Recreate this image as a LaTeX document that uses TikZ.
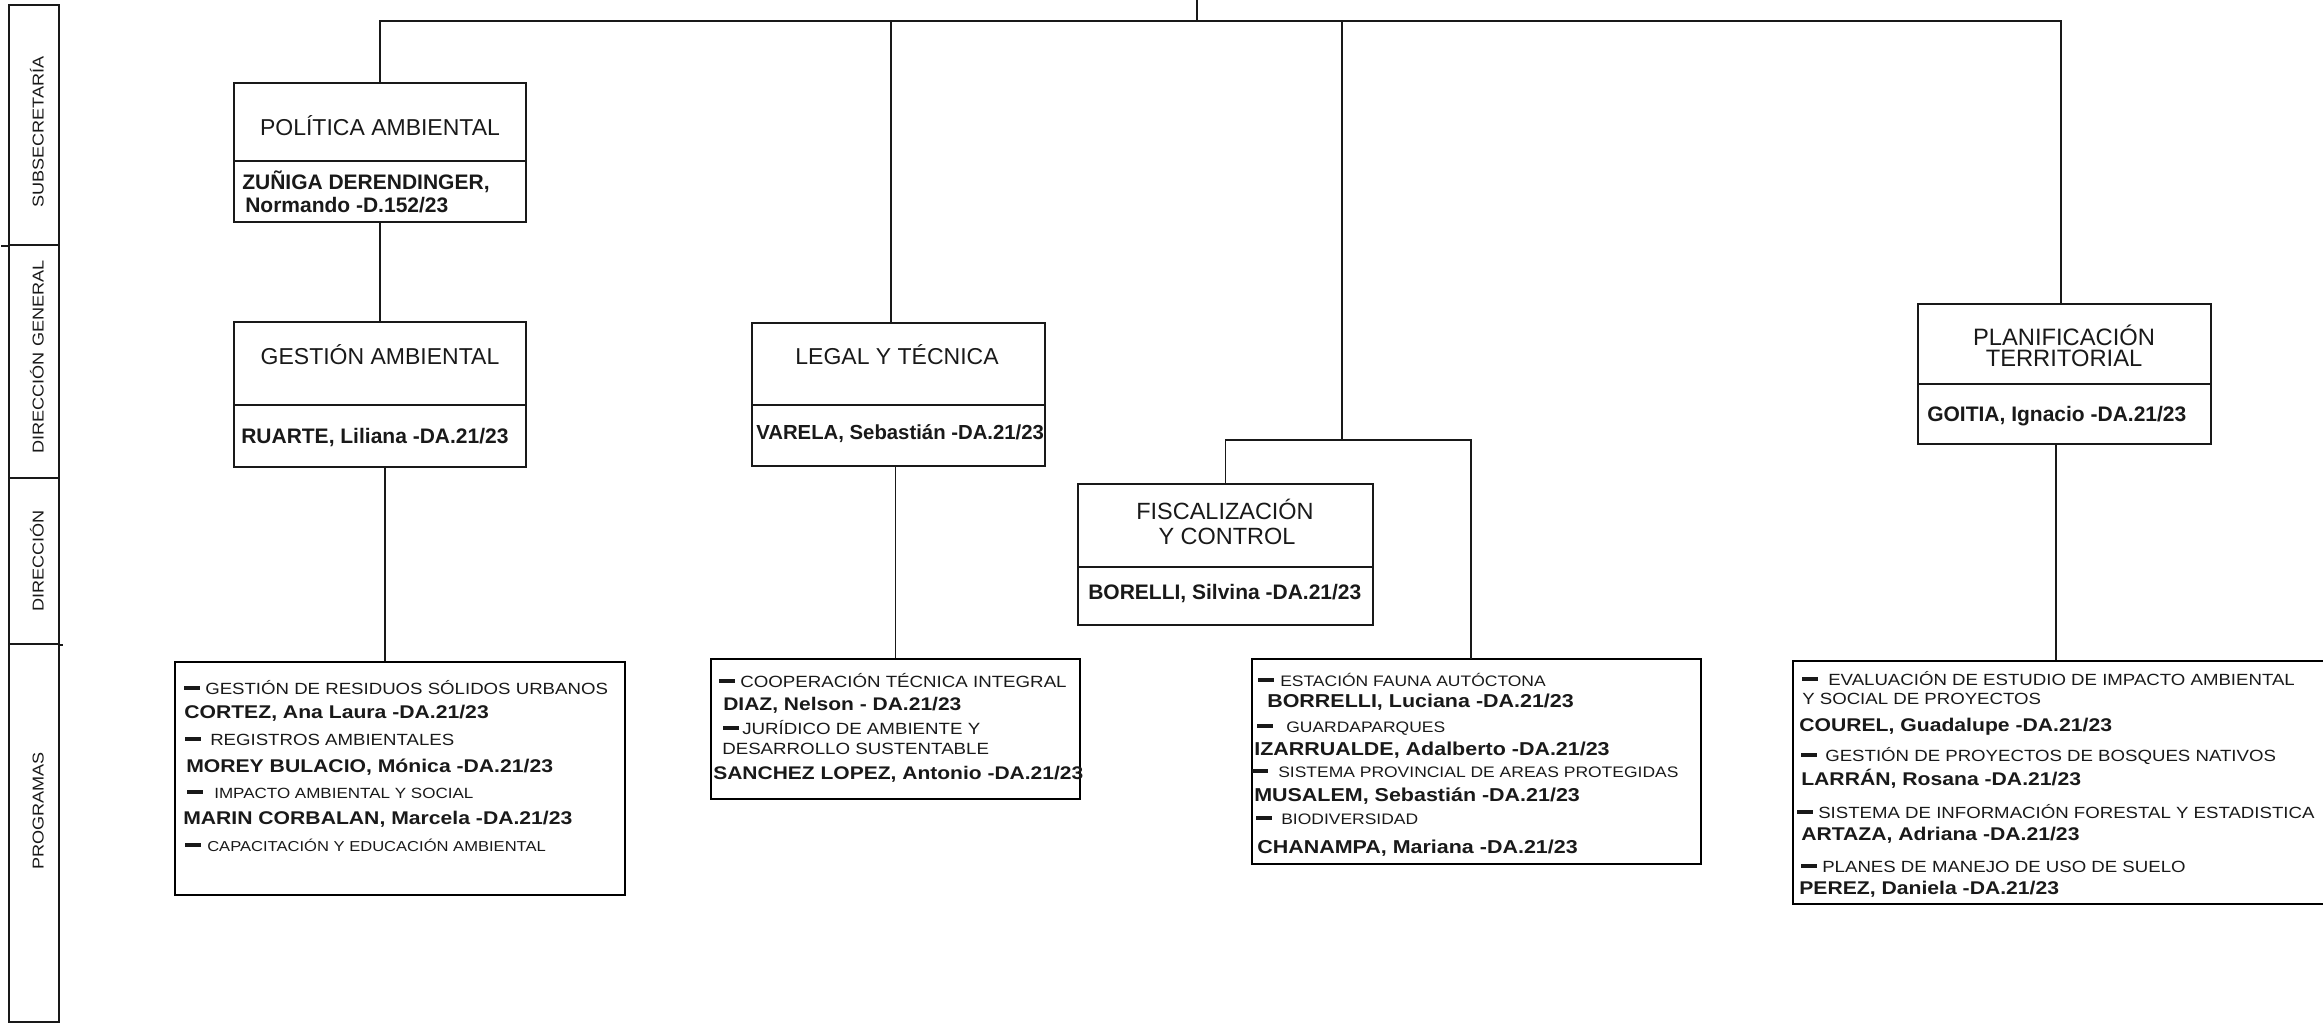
\documentclass[tikz,border=0pt]{standalone}
\usepackage{fontspec}
\setmainfont{Liberation Sans}
\newfontfamily\pf[FakeStretch=1.15]{Liberation Sans}
\usetikzlibrary{fit}
\newcommand\fsz[1]{\fontsize{#1}{#1}\selectfont}
\newcommand\dsh{\rule[3pt]{12pt}{2.8pt}}
\begin{document}
\begin{tikzpicture}[x=0.75pt,y=-0.75pt,
  conn/.style={draw=black!90, line width=1.2pt},
  dbox/.style={draw=black!90, line width=1.2pt, inner sep=0pt},
  pbox/.style={draw=black, line width=2pt, inner sep=0pt},
  ttl/.style={font=\fsz{#1}, anchor=base, inner sep=0pt, text=black!90},
  ttl/.default=17.25pt,
  dname/.style={font=\bfseries\fsz{#1}, anchor=base west, inner sep=0pt, text=black!90},
  dname/.default=15.75pt,
  preg/.style={font=\pf\fsz{#1}, anchor=base west, inner sep=0pt, text=black!90},
  preg/.default=12.15pt,
  pbold/.style={font=\pf\bfseries\fsz{#1}, anchor=base west, inner sep=0pt, text=black!90},
  pbold/.default=13.8pt,
  side/.style={font=\pf\fsz{11.8pt}, rotate=90, anchor=base, inner sep=0pt, text=black!90}]
\useasboundingbox (0,0) rectangle (2323,1024);
\clip (0,0) rectangle (2323,1024);

% sidebar
\node[dbox, fit={(9,5) (59,245)}] (sbA) {};
\node[dbox, fit={(9,245) (59,478)}] (sbB) {};
\node[dbox, fit={(9,478) (59,644)}] (sbC) {};
\node[dbox, fit={(9,644) (59,1022)}] (sbD) {};
\draw[conn] (sbA.south west) -- ++(-7,0);
\draw[conn] (sbC.south east) -- ++(3,0);
\node[side] (sbAt) at (43.5,132) {SUBSECRETARÍA};
\node[side] (sbBt) at (43.5,357) {DIRECCIÓN GENERAL};
\node[side] (sbCt) at (43.5,561) {DIRECCIÓN};
\node[side] (sbDt) at (43.5,811) {PROGRAMAS};

% department boxes
\node[dbox, fit={(234,83) (526,161)}] (polT) {};
\node[dbox, fit={(234,161) (526,222)}] (polN) {};
\node[ttl] (polTt) at (380,135) {POLÍTICA AMBIENTAL};
\node[dname] (polNa) at (242,189) {ZUÑIGA DERENDINGER,};
\node[dname] (polNb) at (245,212) {Normando -D.152/23};

\node[dbox, fit={(234,322) (526,405)}] (gesT) {};
\node[dbox, fit={(234,405) (526,467)}] (gesN) {};
\node[ttl] (gesTt) at (380,364) {GESTIÓN AMBIENTAL};
\node[dname] (gesNt) at (241,443) {RUARTE, Liliana -DA.21/23};

\node[dbox, fit={(752,323) (1045,405)}] (legT) {};
\node[dbox, fit={(752,405) (1045,466)}] (legN) {};
\node[ttl] (legTt) at (897,364) {LEGAL Y TÉCNICA};
\node[dname=15.25pt] (legNt) at (756,439) {VARELA, Sebastián -DA.21/23};

\node[dbox, fit={(1078,484) (1373,567)}] (fisT) {};
\node[dbox, fit={(1078,567) (1373,625)}] (fisN) {};
\node[ttl=17.6pt] (fisTa) at (1225,519) {FISCALIZACIÓN};
\node[ttl=17.6pt] (fisTb) at (1227,544) {Y CONTROL};
\node[dname] (fisNt) at (1088,599) {BORELLI, Silvina -DA.21/23};

\node[dbox, fit={(1918,304) (2211,384)}] (planT) {};
\node[dbox, fit={(1918,384) (2211,444)}] (planN) {};
\node[ttl=17.8pt] (planTa) at (2064,345) {PLANIFICACIÓN};
\node[ttl=17.8pt] (planTb) at (2064,366) {TERRITORIAL};
\node[dname] (planNt) at (1927,421) {GOITIA, Ignacio -DA.21/23};

% program boxes
\node[pbox, fit={(175,662) (625,895)}] (p1) {};
\node[pbox, fit={(711,659) (1080,799)}] (p2) {};
\node[pbox, fit={(1252,659) (1701,864)}] (p3) {};
\node[pbox, fit={(1793,661) (2345,904)}] (p4) {};

% connectors
\coordinate (top) at (1197,0);
\coordinate (bus) at (1197,21);
\coordinate (planup) at (2061,304);
\draw[conn] (top) -- (bus);
\draw[conn] (polT.north) -- (polT.north |- bus) -| (planup);
\coordinate (legup) at (891,323);
\draw[conn] (legup |- bus) -- (legup);
\coordinate (fsplit) at (1342,440);
\draw[conn] (fsplit |- bus) -- (fsplit);
\coordinate (p3up) at (1471,659);
\draw[conn] (fisT.north) |- (fsplit) -| (p3up);
\draw[conn] (polN.south) -- (gesT.north);
\coordinate (gesdown) at (385,467);
\draw[conn] (gesdown) -- (gesdown |- p1.north);
\draw[conn] (legN.south -| p2.north) -- (p2.north);
\coordinate (plandown) at (2056,444);
\draw[conn] (plandown) -- (plandown |- p4.north);

% program texts, box 1
\node[preg] (p1a) at (184,694) {\dsh\hspace{3.75pt}GESTIÓN DE RESIDUOS SÓLIDOS URBANOS};
\node[pbold] (p1b) at (184,718) {CORTEZ, Ana Laura -DA.21/23};
\node[preg] (p1c) at (185,745) {\dsh\hspace{6.75pt}REGISTROS AMBIENTALES};
\node[pbold] (p1d) at (186,772) {MOREY BULACIO, Mónica -DA.21/23};
\node[preg=11.1pt] (p1e) at (187,798) {\dsh\hspace{8.25pt}IMPACTO AMBIENTAL Y SOCIAL};
\node[pbold] (p1f) at (183,824) {MARIN CORBALAN, Marcela -DA.21/23};
\node[preg=10.8pt] (p1g) at (185,851) {\dsh\hspace{4.5pt}CAPACITACIÓN Y EDUCACIÓN AMBIENTAL};

% box 2
\node[preg=12.2pt] (p2a) at (719,687) {\dsh\hspace{3.75pt}COOPERACIÓN TÉCNICA INTEGRAL};
\node[pbold=13.7pt] (p2b) at (723,710) {DIAZ, Nelson - DA.21/23};
\node[preg=12.2pt] (p2c) at (723,734) {\dsh\hspace{2.25pt}JURÍDICO DE AMBIENTE Y};
\node[preg=12.2pt] (p2d) at (722,754) {DESARROLLO SUSTENTABLE};
\node[pbold=13.7pt] (p2e) at (713,779) {SANCHEZ LOPEZ, Antonio -DA.21/23};

% box 3
\node[preg=11.4pt] (p3a) at (1258,686) {\dsh\hspace{4.5pt}ESTACIÓN FAUNA AUTÓCTONA};
\node[pbold=14pt] (p3b) at (1267,707) {BORRELLI, Luciana -DA.21/23};
\node[preg=11.4pt] (p3c) at (1257,732) {\dsh\hspace{9.75pt}GUARDAPARQUES};
\node[pbold=14pt] (p3d) at (1254,755) {IZARRUALDE, Adalberto -DA.21/23};
\node[preg=11.4pt] (p3e) at (1252,777) {\dsh\hspace{7.5pt}SISTEMA PROVINCIAL DE AREAS PROTEGIDAS};
\node[pbold=14pt] (p3f) at (1254,801) {MUSALEM, Sebastián -DA.21/23};
\node[preg=11.4pt] (p3g) at (1256,824) {\dsh\hspace{6.75pt}BIODIVERSIDAD};
\node[pbold=14pt] (p3h) at (1257,853) {CHANAMPA, Mariana -DA.21/23};

% box 4
\node[preg] (p4a) at (1802,685) {\dsh\hspace{7.5pt}EVALUACIÓN DE ESTUDIO DE IMPACTO AMBIENTAL};
\node[preg] (p4b) at (1802,704) {Y SOCIAL DE PROYECTOS};
\node[pbold] (p4c) at (1799,731) {COUREL, Guadalupe -DA.21/23};
\node[preg] (p4d) at (1801,761) {\dsh\hspace{6pt}GESTIÓN DE PROYECTOS DE BOSQUES NATIVOS};
\node[pbold] (p4e) at (1801,785) {LARRÁN, Rosana -DA.21/23};
\node[preg] (p4f) at (1797,818) {\dsh\hspace{3.75pt}SISTEMA DE INFORMACIÓN FORESTAL Y ESTADISTICA};
\node[pbold] (p4g) at (1801,840) {ARTAZA, Adriana -DA.21/23};
\node[preg] (p4h) at (1801,872) {\dsh\hspace{3.75pt}PLANES DE MANEJO DE USO DE SUELO};
\node[pbold] (p4i) at (1799,894) {PEREZ, Daniela -DA.21/23};
\end{tikzpicture}
\end{document}
